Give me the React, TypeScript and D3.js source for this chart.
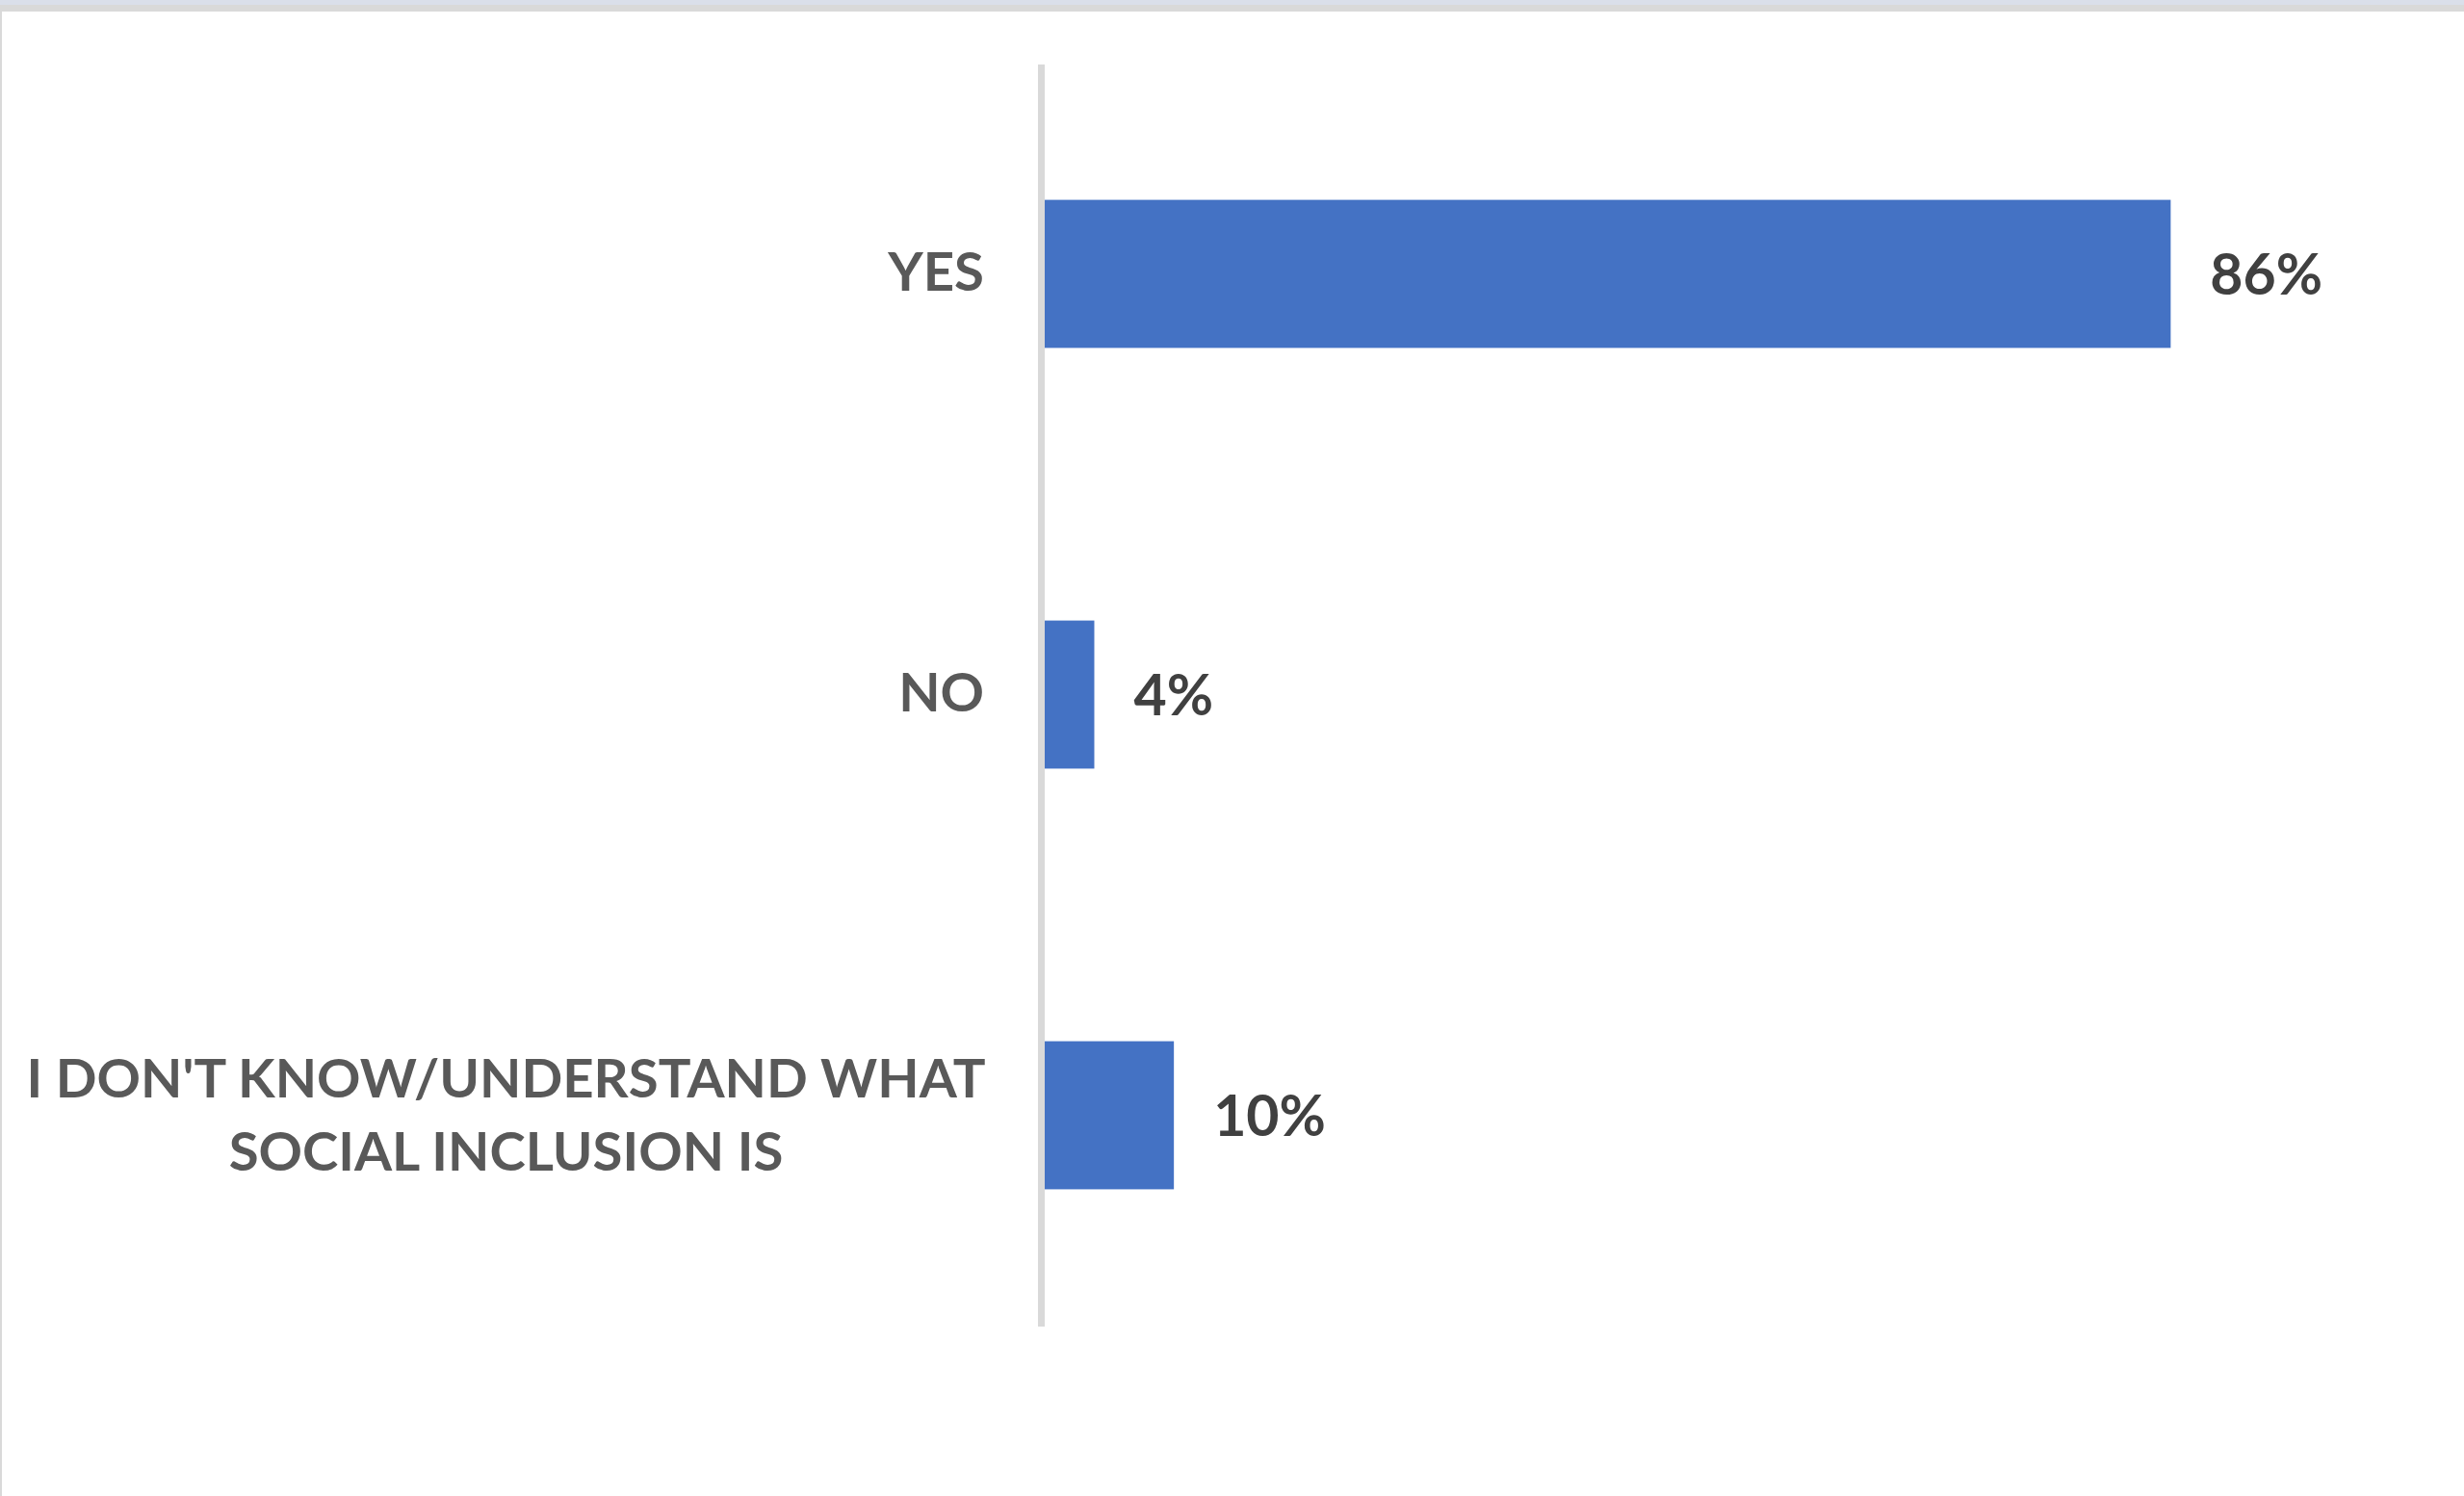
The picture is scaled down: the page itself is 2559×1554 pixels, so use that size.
import React from "react";
import * as d3 from "d3";

const categories = ["YES", "NO", "I DON'T KNOW/UNDERSTAND WHAT SOCIAL INCLUSION IS"];
const categoryLines = [["YES"], ["NO"], ["I DON'T KNOW/UNDERSTAND WHAT", "SOCIAL INCLUSION IS"]];
const values = [0.863, 0.038, 0.099];

const W = 2559;
const H = 1554;
const FONT = "Lato, 'Open Sans', sans-serif";

export default function App() {
  const x = d3.scaleLinear().domain([0, 1]).range([1085, 1085 + 1355]);
  const y = d3
    .scaleBand<string>()
    .domain(categories)
    .range([66, 1377])
    .paddingInner(0.648)
    .paddingOuter(0.324);
  const fmt = d3.format(".0%");
  const labelRight = 1022;
  const line1Width = 993;

  return (
    <div style={{ position: "fixed", left: 0, top: 0, width: W, height: H, background: "#fff" }}>
      <svg width={W} height={H} style={{ display: "block" }}>
        <rect x={0} y={0} width={W} height={H} fill="#ffffff" />
        <rect x={0} y={0} width={W} height={5} fill="#dadfea" />
        <rect x={0} y={5} width={W} height={7} fill="#d9d9d9" />
        <rect x={0} y={12} width={2} height={H - 12} fill="#d9d9d9" />
        {categories.map((c, i) => (
          <rect
            key={c}
            x={x(0)}
            y={y(c)}
            width={x(values[i]) - x(0)}
            height={y.bandwidth()}
            fill="#4472c4"
          />
        ))}
        <rect x={1078} y={67} width={7} height={1378 - 67} fill="#d9d9d9" />
        {categories.map((c, i) => {
          const cy = (y(c) as number) + y.bandwidth() / 2;
          const lines = categoryLines[i];
          if (lines.length === 1) {
            return (
              <text
                key={c}
                x={labelRight}
                y={cy + 17}
                textAnchor="end"
                fontFamily={FONT}
                fontWeight={700}
                fontSize={56.3}
                fill="#595959"
              >
                {lines[0]}
              </text>
            );
          }
          return (
            <text
              key={c}
              x={labelRight - line1Width / 2}
              textAnchor="middle"
              fontFamily={FONT}
              fontWeight={700}
              fontSize={56.3}
              fill="#595959"
            >
              {lines.map((l, j) => (
                <tspan key={j} x={labelRight - line1Width / 2} y={cy - 19 + j * 76}>
                  {l}
                </tspan>
              ))}
            </text>
          );
        })}
        {categories.map((c, i) => {
          const cy = (y(c) as number) + y.bandwidth() / 2;
          return (
            <text
              key={c + "v"}
              x={x(values[i]) + 41}
              y={cy + 21}
              fontFamily={FONT}
              fontWeight={700}
              fontSize={59}
              fill="#404040"
            >
              {fmt(values[i])}
            </text>
          );
        })}
      </svg>
    </div>
  );
}
